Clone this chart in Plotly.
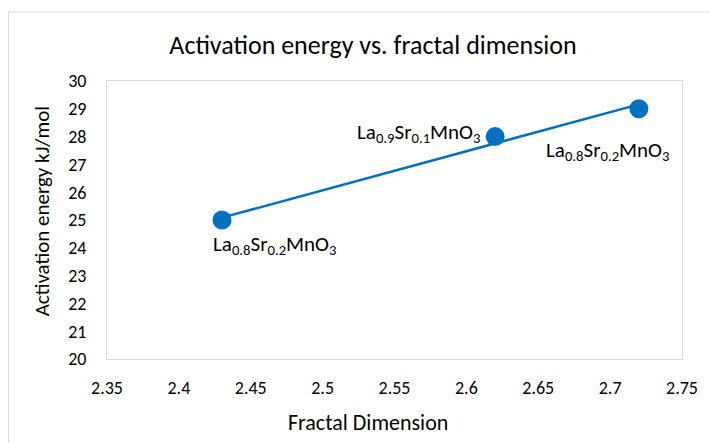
import numpy as np
import plotly.graph_objects as go

fractal_dim = [2.43, 2.62, 2.72]
activation_energy = [25, 28, 29]
point_labels = ["La<sub>0.8</sub>Sr<sub>0.2</sub>MnO<sub>3</sub>",
                "La<sub>0.9</sub>Sr<sub>0.1</sub>MnO<sub>3</sub>",
                "La<sub>0.8</sub>Sr<sub>0.2</sub>MnO<sub>3</sub>"]
x_ticks = [2.35, 2.4, 2.45, 2.5, 2.55, 2.6, 2.65, 2.7, 2.75]
y_ticks = list(range(20, 31))
title_text = "Activation energy vs. fractal dimension"
x_title = "Fractal Dimension"
y_title = "Activation energy kJ/mol"

FONT = "Carlito, Liberation Sans Narrow, Noto Sans, sans-serif"
BLUE = "#0070C0"

# plot-area pixel geometry (used to place paper-referenced texts)
L, R, T, B = 107, 25, 81, 84
PW, PH = 710 - L - R, 443 - T - B


def px_x(p):
    return (p - L) / PW


def px_y(p):
    return (443 - B - p) / PH


# linear trendline (least squares) drawn between first and last points
slope, intercept = np.polyfit(fractal_dim, activation_energy, 1)
tx = [min(fractal_dim), max(fractal_dim)]
ty = [slope * v + intercept for v in tx]

fig = go.Figure()
fig.add_trace(go.Scatter(x=tx, y=ty, mode="lines",
                         line=dict(color=BLUE, width=2.5), hoverinfo="skip",
                         showlegend=False))
fig.add_trace(go.Scatter(x=fractal_dim, y=activation_energy, mode="markers",
                         marker=dict(color=BLUE, size=19), showlegend=False))

label_style = [
    dict(xanchor="center", yanchor="middle", xshift=52, yshift=-25),
    dict(xanchor="right", yanchor="middle", xshift=-13, yshift=4),
    dict(xanchor="center", yanchor="middle", xshift=-31, yshift=-42),
]
for x, y, t, s in zip(fractal_dim, activation_energy, point_labels, label_style):
    fig.add_annotation(x=x, y=y, text=t, showarrow=False,
                       font=dict(family=FONT, size=21, color="#000000"), **s)

# axis titles (centred on the chart area, as in the reference)
fig.add_annotation(xref="paper", yref="paper", x=px_x(369), y=px_y(422),
                   text=x_title, showarrow=False, xanchor="center",
                   yanchor="middle", font=dict(family=FONT, size=22))
fig.add_annotation(xref="paper", yref="paper", x=px_x(42), y=px_y(211),
                   text=y_title, showarrow=False, textangle=-90,
                   xanchor="center", yanchor="middle",
                   font=dict(family=FONT, size=21))

# outer chart border
fig.add_shape(type="rect", xref="paper", yref="paper",
              x0=px_x(8), x1=1.2, y0=-0.5, y1=px_y(12),
              line=dict(color="#D9D9D9", width=1), fillcolor="rgba(0,0,0,0)",
              layer="below")

fig.update_layout(
    width=710, height=443,
    margin=dict(l=L, r=R, t=T, b=B),
    paper_bgcolor="white", plot_bgcolor="white",
    font=dict(family=FONT, color="#000000"),
    title=dict(text=title_text,
               x=373 / 710, xanchor="center", y=1 - 45 / 443, yanchor="middle",
               font=dict(family=FONT, size=26, color="#000000")),
)
fig.update_xaxes(range=[2.35, 2.75], tickvals=x_ticks,
                 ticktext=[f"{v:g}" for v in x_ticks],
                 showgrid=False, zeroline=False, showline=True, mirror=True,
                 linecolor="#D9D9D9", linewidth=1, ticks="",
                 tickfont=dict(family=FONT, size=18), ticklabelstandoff=12)
fig.update_yaxes(range=[20, 30], tickvals=y_ticks,
                 showgrid=False, zeroline=False, showline=True, mirror=True,
                 linecolor="#D9D9D9", linewidth=1, ticks="",
                 tickfont=dict(family=FONT, size=18), ticklabelstandoff=16)

fig.write_html("out.html")
